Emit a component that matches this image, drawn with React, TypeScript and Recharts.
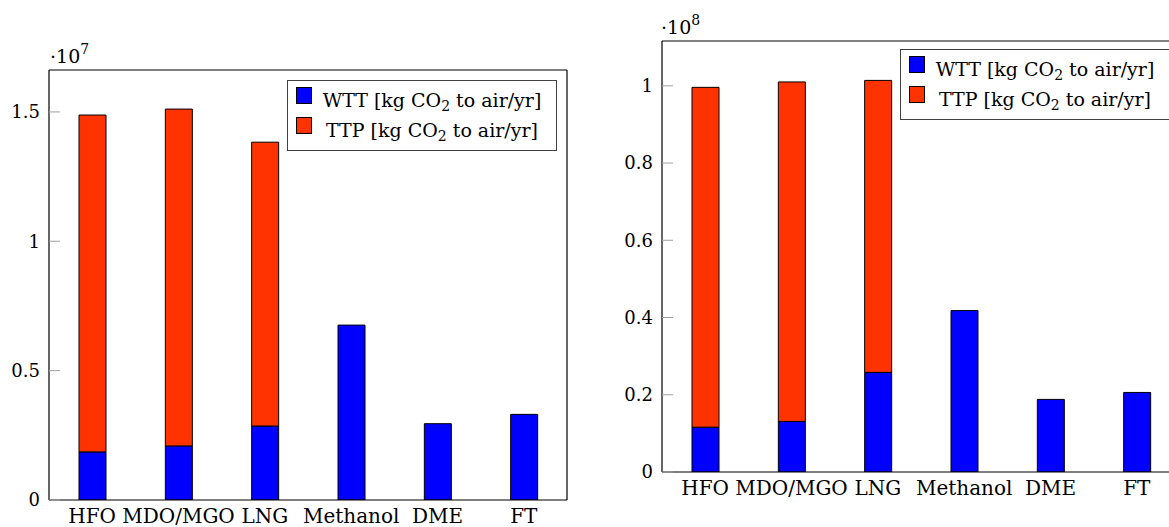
import React from 'react';
import { BarChart, Bar, XAxis, YAxis, Legend } from 'recharts';

const categories = ['HFO', 'MDO/MGO', 'LNG', 'Methanol', 'DME', 'FT'];
const seriesNames = ['WTT', 'TTP'];

// left chart, values in units of 10^7 kg CO2 / yr
const leftWTT = [0.186, 0.209, 0.286, 0.676, 0.295, 0.331];
const leftTTP = [1.302, 1.302, 1.097, 0, 0, 0];
const leftYTicks = [0, 0.5, 1, 1.5];
const leftYMax = 1.662;

// right chart, values in units of 10^8 kg CO2 / yr
const rightWTT = [0.116, 0.131, 0.258, 0.418, 0.188, 0.206];
const rightTTP = [0.88, 0.879, 0.756, 0, 0, 0];
const rightYTicks = [0, 0.2, 0.4, 0.6, 0.8, 1];
const rightYMax = 1.116;

const FONT = 'DejaVu Serif';
const BLUE = '#0000ff';
const RED = '#ff3300';
const TICK_GREY = '#a0a0a0';

const build = (wtt: number[], ttp: number[]) =>
  categories.map((name, i) => ({ name, wtt: wtt[i], ttp: ttp[i] }));

const leftData = build(leftWTT, leftTTP);
const rightData = build(rightWTT, rightTTP);

const LegendContent = (props: any) => {
  const payload = [...(props.payload || [])].sort(
    (a: any, b: any) => seriesNames.indexOf(a.value) - seriesNames.indexOf(b.value)
  );
  return (
    <div
      style={{
        position: 'relative',
        width: 270,
        height: 71,
        border: '1px solid #404040',
        boxSizing: 'border-box',
        background: '#fff',
        fontFamily: FONT,
        fontSize: 19,
        color: '#000',
      }}
    >
      {payload.map((p: any, i: number) => (
        <React.Fragment key={i}>
          <div
            style={{
              position: 'absolute',
              left: 8,
              top: 6 + i * 30,
              width: 16,
              height: 17,
              background: p.color,
              border: '1px solid #000',
              boxSizing: 'border-box',
            }}
          />
          <div
            style={{
              position: 'absolute',
              left: 26,
              top: 10 + i * 30,
              width: 236,
              height: 18,
              lineHeight: '18px',
              textAlign: 'center',
              whiteSpace: 'nowrap',
            }}
          >
            {p.value} [kg CO
            <span style={{ fontSize: 14, position: 'relative', top: 4 }}>2</span> to air/yr]
          </div>
        </React.Fragment>
      ))}
    </div>
  );
};

type ChartProps = {
  data: any[];
  ticks: number[];
  yMax: number;
  top: number;
  xAxisHeight: number;
  legendTop: number;
};

const StackChart = ({ data, ticks, yMax, top, xAxisHeight, legendTop }: ChartProps) => (
  <BarChart
    width={600}
    height={527}
    data={data}
    margin={{ top: top - 1, right: 32, bottom: 0, left: 0 }}
  >
    <XAxis
      dataKey="name"
      type="category"
      interval={0}
      height={xAxisHeight}
      tickLine={false}
      tickSize={0}
      tickMargin={9}
      axisLine={{ stroke: '#000', strokeWidth: 1.2 }}
      tick={{ fontFamily: FONT, fontSize: 20, fill: '#000' }}
    />
    <XAxis
      xAxisId="top"
      orientation="top"
      dataKey="name"
      type="category"
      interval={0}
      height={1}
      tick={false}
      tickSize={-11}
      axisLine={{ stroke: '#000', strokeWidth: 1.2 }}
      tickLine={{ stroke: TICK_GREY }}
    />
    <YAxis
      type="number"
      domain={[0, yMax]}
      allowDataOverflow
      ticks={ticks}
      interval={0}
      width={49}
      tickSize={-11}
      tickMargin={20}
      axisLine={{ stroke: '#000', strokeWidth: 1.2 }}
      tickLine={{ stroke: TICK_GREY }}
      tick={{ fontFamily: FONT, fontSize: 18, fill: '#000' }}
    />
    <YAxis
      yAxisId="r"
      orientation="right"
      type="number"
      domain={[0, yMax]}
      allowDataOverflow
      ticks={ticks}
      interval={0}
      width={1}
      tick={false}
      tickSize={-11}
      axisLine={{ stroke: '#000', strokeWidth: 1.2 }}
      tickLine={{ stroke: TICK_GREY }}
    />
    <Bar
      dataKey="wtt"
      name={seriesNames[0]}
      stackId="s"
      fill={BLUE}
      stroke="#000"
      strokeWidth={1}
      barSize={27}
      isAnimationActive={false}
    />
    <Bar
      dataKey="ttp"
      name={seriesNames[1]}
      stackId="s"
      fill={RED}
      stroke="#000"
      strokeWidth={1}
      barSize={27}
      isAnimationActive={false}
    />
    <Legend
      layout="vertical"
      align="center"
      verticalAlign="middle"
      content={<LegendContent />}
      wrapperStyle={{ position: 'absolute', left: 287, top: legendTop, width: 270, height: 71 }}
    />
  </BarChart>
);

export default function App() {
  return (
    <div style={{ position: 'relative', width: 1169, height: 527, overflow: 'hidden', background: '#fff' }}>
      <style>{'body{margin:0;overflow:hidden;background:#fff}'}</style>
      <div style={{ position: 'absolute', left: 0, top: 0, width: 600, height: 527 }}>
        <StackChart data={leftData} ticks={leftYTicks} yMax={leftYMax} top={70} xAxisHeight={27} legendTop={80} />
      </div>
      <div style={{ position: 'absolute', left: 613, top: 0, width: 600, height: 527 }}>
        <StackChart data={rightData} ticks={rightYTicks} yMax={rightYMax} top={41} xAxisHeight={55} legendTop={49} />
      </div>
      <svg
        width={1169}
        height={527}
        style={{ position: 'absolute', left: 0, top: 0, pointerEvents: 'none' }}
      >
        <text x={50} y={63} fontFamily={FONT} fontSize={19} fill="#000">
          ·10<tspan dy={-9} fontSize={14}>7</tspan>
        </text>
        <text x={661} y={34} fontFamily={FONT} fontSize={19} fill="#000">
          ·10<tspan dy={-9} fontSize={14}>8</tspan>
        </text>
      </svg>
    </div>
  );
}
